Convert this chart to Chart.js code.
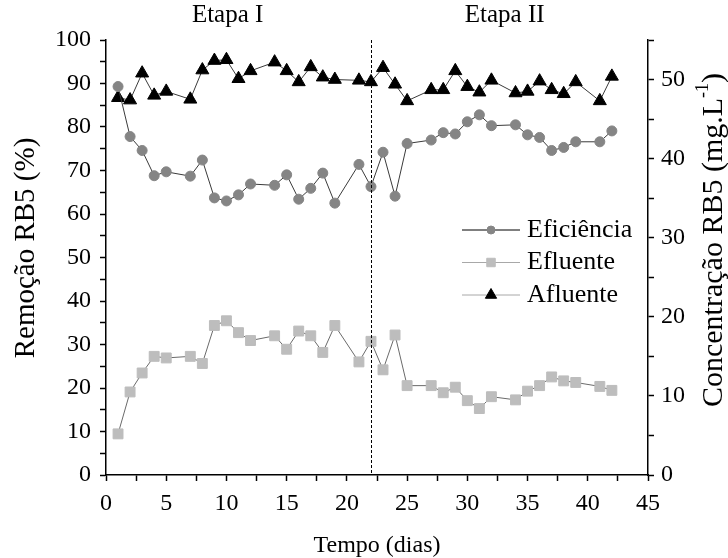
<!doctype html>
<html>
<head>
	<title>Remoção RB5</title>
	<script src="https://cdn.jsdelivr.net/npm/chart.js@4"></script>
	<style>
		body { margin: 0; background: #fff; }
		#holder { width: 728px; height: 558px; }
	</style>
</head>
<body>
	<div id="holder">
		<canvas id="chart-area"></canvas>
	</div>
	<script>
		// dias de operacao
		var dias = [1, 2, 3, 4, 5, 7, 8, 9, 10, 11, 12, 14, 15, 16, 17, 18, 19, 21, 22, 23, 24, 25,
			27, 28, 29, 30, 31, 32, 34, 35, 36, 37, 38, 39, 41, 42];

		// remocao (%) - eixo esquerdo
		var eficiencia = [89.3, 77.8, 74.6, 68.8, 69.7, 68.7, 72.4, 63.7, 63.0, 64.4, 66.9, 66.6, 69.0, 63.4, 65.9, 69.4, 62.5, 71.4, 66.3, 74.2, 64.1, 76.2,
			77.0, 78.7, 78.4, 81.2, 82.8, 80.3, 80.5, 78.2, 77.6, 74.6, 75.3, 76.6, 76.6, 79.1];

		// concentracao (mg/L) - eixo direito
		var efluente = [5.2, 10.5, 12.9, 15.0, 14.8, 15.0, 14.1, 18.9, 19.5, 18.0, 17.0, 17.6, 15.9, 18.2, 17.6, 15.5, 18.9, 14.3, 16.9, 13.3, 17.7, 11.3,
			11.3, 10.4, 11.1, 9.4, 8.4, 9.9, 9.5, 10.6, 11.3, 12.4, 11.9, 11.7, 11.2, 10.7];
		var afluente = [47.7, 47.4, 50.8, 48.0, 48.5, 47.5, 51.2, 52.4, 52.5, 50.1, 51.1, 52.2, 51.1, 49.7, 51.6, 50.3, 50.0, 49.9, 49.7, 51.5, 49.4, 47.3,
			48.7, 48.7, 51.1, 49.1, 48.4, 49.9, 48.3, 48.5, 49.8, 48.7, 48.2, 49.7, 47.3, 50.4];

		var inicioEtapa2 = 22;
		var etapas = [{ texto: 'Etapa I', x: 10.1 }, { texto: 'Etapa II', x: 33.1 }];

		var fonte = 'Liberation Serif, Times New Roman, serif';

		var pares = function(ys) {
			return ys.map(function(y, i) { return { x: dias[i], y: y }; });
		};

		// linha tracejada, etapas, titulos verticais e legenda
		var extras = {
			id: 'extras',
			afterDatasetsDraw: function(chart) {
				var ctx = chart.ctx;
				var area = chart.chartArea;
				var xs = chart.scales.x;
				var px = xs.getPixelForValue(inicioEtapa2);
				ctx.save();
				ctx.strokeStyle = '#000';
				ctx.lineWidth = 1;
				ctx.setLineDash([3, 2]);
				ctx.beginPath();
				ctx.moveTo(Math.round(px) + 0.5, area.top);
				ctx.lineTo(Math.round(px) + 0.5, area.bottom);
				ctx.stroke();
				ctx.setLineDash([]);

				ctx.fillStyle = '#000';
				ctx.font = '25px ' + fonte;
				ctx.textAlign = 'center';
				ctx.textBaseline = 'middle';
				etapas.forEach(function(e) {
					ctx.fillText(e.texto, xs.getPixelForValue(e.x), 15);
				});

				// titulo esquerdo
				ctx.save();
				ctx.translate(26, 248);
				ctx.rotate(-Math.PI / 2);
				ctx.font = '29px ' + fonte;
				ctx.fillText('Remoção RB5 (%)', 0, 0);
				ctx.restore();

				// titulo direito com expoente
				ctx.save();
				ctx.translate(714, 240);
				ctx.rotate(-Math.PI / 2);
				ctx.textAlign = 'left';
				var t1 = 'Concentração RB5 (mg.L', t2 = '-1', t3 = ')';
				ctx.font = '30px ' + fonte;
				var w1 = ctx.measureText(t1).width, w3 = ctx.measureText(t3).width;
				ctx.font = '18px ' + fonte;
				var w2 = ctx.measureText(t2).width;
				var x0 = -(w1 + w2 + w3) / 2;
				ctx.font = '30px ' + fonte;
				ctx.fillText(t1, x0, 0);
				ctx.fillText(t3, x0 + w1 + w2, 0);
				ctx.font = '18px ' + fonte;
				ctx.fillText(t2, x0 + w1, -11);
				ctx.restore();

				// legenda
				var lx = area.left + 356;
				var ly = area.top + 190;
				ctx.textAlign = 'left';
				ctx.font = '26px ' + fonte;
				chart.data.datasets.forEach(function(ds, i) {
					var y = ly + i * 32.5;
					ctx.strokeStyle = ds.legendLine;
					ctx.lineWidth = 1;
					ctx.beginPath();
					ctx.moveTo(lx, y);
					ctx.lineTo(lx + 58, y);
					ctx.stroke();
					ctx.fillStyle = ds.pointBackgroundColor;
					ctx.strokeStyle = ds.pointBackgroundColor;
					Chart.helpers.drawPoint(ctx, {
						pointStyle: ds.pointStyle,
						radius: ds.pointRadius - 1,
						rotation: 0,
						borderWidth: 1
					}, lx + 29, y);
					ctx.fillStyle = '#000';
					ctx.fillText(ds.label, lx + 65, y);
				});
				ctx.restore();
			}
		};

		var eixoTicks = { color: '#000', font: { family: fonte, size: 24 } };

		var config = {
			type: 'line',
			data: {
				datasets: [{
					label: 'Eficiência',
					data: pares(eficiencia),
					yAxisID: 'y',
					borderColor: '#3a3a3a',
					borderWidth: 1,
					legendLine: '#000',
					pointStyle: 'circle',
					pointRadius: 5,
					pointBackgroundColor: '#858585',
					pointBorderColor: '#858585'
				}, {
					label: 'Efluente',
					data: pares(efluente),
					yAxisID: 'y2',
					borderColor: '#6a6a6a',
					borderWidth: 1,
					legendLine: '#a8a8a8',
					pointStyle: 'rect',
					pointRadius: 7,
					pointBackgroundColor: '#bdbdbd',
					pointBorderColor: '#bdbdbd'
				}, {
					label: 'Afluente',
					data: pares(afluente),
					yAxisID: 'y2',
					borderColor: '#3a3a3a',
					borderWidth: 1,
					legendLine: '#a8a8a8',
					pointStyle: 'triangle',
					pointRadius: 7.5,
					pointBackgroundColor: '#000',
					pointBorderColor: '#000'
				}]
			},
			options: {
				responsive: true,
				maintainAspectRatio: false,
				animation: false,
				layout: { padding: { top: 40, left: 0, right: 0, bottom: 0 } },
				plugins: {
					legend: { display: false },
					tooltip: { enabled: false }
				},
				scales: {
					x: {
						type: 'linear',
						min: 0,
						max: 45,
						afterFit: function(s) { s.height = 83; },
						border: { color: '#000', width: 1.5 },
						grid: { drawOnChartArea: false, tickLength: 6, color: '#000', tickWidth: 1.5 },
						ticks: Object.assign({}, eixoTicks, {
							stepSize: 2.5,
							autoSkip: false,
							maxRotation: 0,
							padding: 8,
							callback: function(v) { return v % 5 === 0 ? v : ''; }
						}),
						title: { display: true, text: 'Tempo (dias)', color: '#000', font: { family: fonte, size: 24, lineHeight: 1 }, padding: { top: 0, bottom: 0 } }
					},
					y: {
						position: 'left',
						min: 0,
						max: 100,
						afterFit: function(s) { s.width = 106; },
						border: { color: '#000', width: 1.5 },
						grid: { drawOnChartArea: false, tickLength: 6, color: '#000', tickWidth: 1.5 },
						ticks: Object.assign({}, eixoTicks, {
							stepSize: 5,
							autoSkip: false,
							padding: 9,
							callback: function(v) { return v % 10 === 0 ? v : ''; }
						})
					},
					y2: {
						position: 'right',
						min: 0,
						max: 55,
						afterFit: function(s) { s.width = 80; },
						border: { color: '#000', width: 1.5 },
						grid: { drawOnChartArea: false, tickLength: 6, color: '#000', tickWidth: 1.5 },
						ticks: Object.assign({}, eixoTicks, {
							stepSize: 5,
							autoSkip: false,
							padding: 7,
							callback: function(v) { return v % 10 === 0 && v <= 50 ? v : ''; }
						})
					}
				}
			},
			plugins: [extras]
		};

		window.onload = function() {
			var ctx = document.getElementById('chart-area').getContext('2d');
			window.myLine = new Chart(ctx, config);
		};
	</script>
</body>
</html>
